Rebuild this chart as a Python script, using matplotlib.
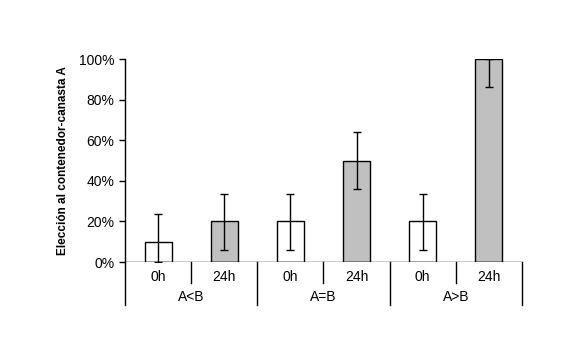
import numpy as np
import matplotlib.pyplot as plt
from matplotlib.ticker import PercentFormatter

plt.rcParams['font.family'] = ['Liberation Sans', 'DejaVu Sans']

# --- DATA ---
groups = ['A<B', 'A=B', 'A>B']
times = ['0h', '24h']
values = [10, 20, 20, 50, 20, 100]
err_low = [10, 14, 14, 14, 14, 14]
err_high = [13.5, 13.5, 13.5, 14, 13.5, 0]
bar_colors = ['white', '#c0c0c0', 'white', '#c0c0c0', 'white', '#c0c0c0']

fig = plt.figure(figsize=(5.88, 3.6), dpi=100)
ax = fig.add_axes([0.2126, 0.2722, 0.675, 0.5639])

x = np.arange(len(values))
ax.bar(x, values, width=0.41, color=bar_colors, edgecolor='black', linewidth=1)
ax.errorbar(x, values, yerr=[err_low, err_high], fmt='none', ecolor='black',
            elinewidth=1, capsize=3, capthick=1)

ax.set_xlim(-0.5, len(values) - 0.5)
ax.set_ylim(0, 100)
ax.set_yticks(np.arange(0, 101, 20))
ax.yaxis.set_major_formatter(PercentFormatter(decimals=0))
ax.tick_params(axis='y', direction='out', length=4, width=1, labelsize=10)
ax.set_xticks([])
for s in ['top', 'right', 'bottom']:
    ax.spines[s].set_visible(False)
ax.spines['left'].set_linewidth(1)
ax.axhline(0, color='black', lw=1)

ax.set_ylabel('Elección al contenedor-canasta A', fontsize=8.5, fontweight='bold', labelpad=7)

# two-level category axis below the bars
trans = ax.get_xaxis_transform()
for i in range(len(values)):
    ax.text(x[i], -0.074, times[i % 2], transform=trans, ha='center', va='center', fontsize=10)
for g, name in enumerate(groups):
    ax.text(2 * g + 0.5, -0.172, name, transform=trans, ha='center', va='center', fontsize=10)
for xp in [0.5, 2.5, 4.5]:
    ax.plot([xp, xp], [0, -0.103], transform=trans, color='black', lw=1, clip_on=False)
for xp in [-0.5, 1.5, 3.5, 5.5]:
    ax.plot([xp, xp], [0, -0.212], transform=trans, color='black', lw=1, clip_on=False)

fig.savefig('out.png', dpi=100, facecolor='white')
